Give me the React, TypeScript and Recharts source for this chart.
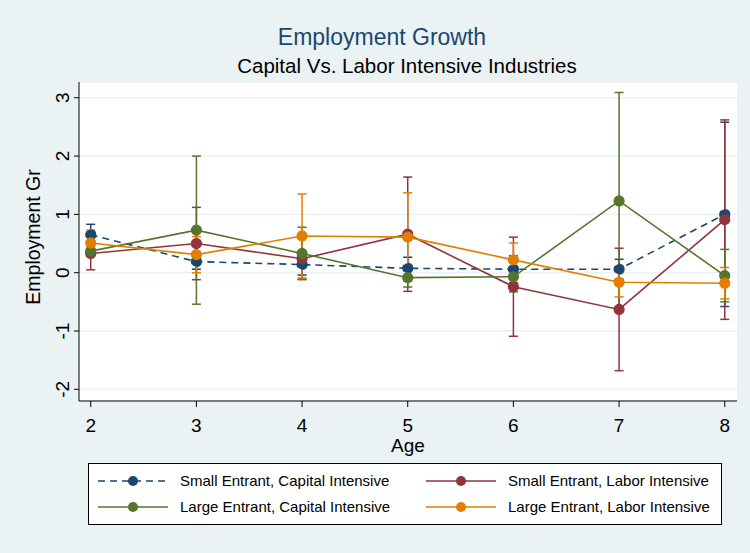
import React from 'react';
import { LineChart, Line, XAxis, YAxis, CartesianGrid, ErrorBar, Legend } from 'recharts';

// Employment growth by firm age, with 95% bands, for four entrant groups
const ages = [2, 3, 4, 5, 6, 7, 8];

const smallCapital = [0.65, 0.19, 0.14, 0.075, 0.06, 0.06, 1.0];
const smallCapitalErr = [0.18, 0.13, 0.18, 0.19, 0.23, 0.17, 1.58];

const smallLabor = [0.33, 0.5, 0.24, 0.66, -0.24, -0.63, 0.91];
const smallLaborErr = [0.28, 0.62, 0.35, 0.98, 0.85, 1.05, 1.71];

const largeCapital = [0.37, 0.73, 0.33, -0.085, -0.07, 1.23, -0.05];
const largeCapitalErr = [0.08, 1.27, 0.45, 0.16, 0.26, 1.86, 0.45];

const largeLabor = [0.51, 0.31, 0.63, 0.61, 0.22, -0.165, -0.18];
const largeLaborErr = [0.22, 0.31, 0.72, 0.76, 0.29, 0.25, 0.27];

const yTicks = [-2, -1, 0, 1, 2, 3];

const NAVY = '#1a476f';
const MAROON = '#90353b';
const GREEN = '#55752f';
const ORANGE = '#e37e00';
const BG = '#eaf2f3';
const FONT = '"Liberation Sans", Arial, Helvetica, sans-serif';

const data = ages.map((age, i) => ({
  age,
  sc: smallCapital[i],
  scErr: smallCapitalErr[i],
  sl: smallLabor[i],
  slErr: smallLaborErr[i],
  lc: largeCapital[i],
  lcErr: largeCapitalErr[i],
  ll: largeLabor[i],
  llErr: largeLaborErr[i],
}));

const legendItems = [
  { label: 'Small Entrant, Capital Intensive', color: NAVY, dash: '7 5' },
  { label: 'Small Entrant, Labor Intensive', color: MAROON },
  { label: 'Large Entrant, Capital Intensive', color: GREEN },
  { label: 'Large Entrant, Labor Intensive', color: ORANGE },
];

// vertical tick labels on the y axis, reading bottom to top
const YTick = (props: any) => {
  const { y, payload } = props;
  const cx = 62;
  return (
    <text
      x={cx}
      y={y}
      transform={`rotate(-90, ${cx}, ${y})`}
      textAnchor="middle"
      dy="0.36em"
      fontSize={19}
      fontFamily={FONT}
      fill="#000"
    >
      {payload.value}
    </text>
  );
};

const LegendBox = () => {
  const cols = [10, 338];
  const rows = [18, 44];
  return (
    <svg width={634} height={62} style={{ display: 'block' }}>
      <rect x={0.5} y={0.5} width={633} height={61} fill="#fff" stroke="#000" strokeWidth={1} />
      {legendItems.map((item, i) => {
        const x0 = cols[i % 2];
        const y0 = rows[Math.floor(i / 2)];
        return (
          <g key={item.label}>
            <line
              x1={x0}
              y1={y0}
              x2={x0 + 70}
              y2={y0}
              stroke={item.color}
              strokeWidth={1.6}
              strokeDasharray={item.dash}
            />
            <circle cx={x0 + 35} cy={y0} r={5} fill={item.color} />
            <text x={x0 + 82} y={y0} dy="0.36em" fontSize={15} fontFamily={FONT} fill="#000">
              {item.label}
            </text>
          </g>
        );
      })}
    </svg>
  );
};

export default function App() {
  const dot = (color: string) => ({ r: 5, fill: color, stroke: color, strokeWidth: 1.2 });
  return (
    <div style={{ position: 'absolute', left: 0, top: 0, width: 750, height: 553, background: BG, fontFamily: FONT }}>
      <LineChart width={750} height={553} data={data} margin={{ top: 82, right: 13, left: 19, bottom: 112 }}>
        <CartesianGrid vertical={false} fill="#fff" stroke={BG} strokeWidth={1.5} />
        <XAxis
          type="number"
          dataKey="age"
          domain={[1.889, 8.116]}
          ticks={ages}
          allowDataOverflow
          height={40}
          tickSize={6}
          tickMargin={12}
          stroke="#000"
          tick={{ fontSize: 19, fill: '#000', fontFamily: FONT }}
        />
        <YAxis
          type="number"
          domain={[-2.2, 3.27]}
          ticks={yTicks}
          allowDataOverflow
          width={60}
          tickSize={5}
          stroke="#000"
          tick={<YTick />}
        />
        <Line
          dataKey="sc"
          stroke={NAVY}
          strokeWidth={1.6}
          strokeDasharray="7 5"
          dot={dot(NAVY)}
          isAnimationActive={false}
        >
          <ErrorBar dataKey="scErr" direction="y" width={4.5} stroke={NAVY} strokeWidth={1.5} />
        </Line>
        <Line dataKey="sl" stroke={MAROON} strokeWidth={1.6} dot={dot(MAROON)} isAnimationActive={false}>
          <ErrorBar dataKey="slErr" direction="y" width={4.5} stroke={MAROON} strokeWidth={1.5} />
        </Line>
        <Line dataKey="lc" stroke={GREEN} strokeWidth={1.6} dot={dot(GREEN)} isAnimationActive={false}>
          <ErrorBar dataKey="lcErr" direction="y" width={4.5} stroke={GREEN} strokeWidth={1.5} />
        </Line>
        <Line dataKey="ll" stroke={ORANGE} strokeWidth={1.6} dot={dot(ORANGE)} isAnimationActive={false}>
          <ErrorBar dataKey="llErr" direction="y" width={4.5} stroke={ORANGE} strokeWidth={1.5} />
        </Line>
        <Legend
          layout="horizontal"
          verticalAlign="middle"
          align="center"
          content={<LegendBox />}
          wrapperStyle={{ left: 88, top: 463, width: 634, height: 62 }}
        />
      </LineChart>
      <svg
        width={750}
        height={553}
        style={{ position: 'absolute', left: 0, top: 0, pointerEvents: 'none' }}
        fontFamily={FONT}
      >
        <text x={382} y={45} textAnchor="middle" fontSize={23} fill={NAVY}>
          Employment Growth
        </text>
        <text x={407} y={72.5} textAnchor="middle" fontSize={20.5} fill="#000">
          Capital Vs. Labor Intensive Industries
        </text>
        <text x={39.5} y={237} transform="rotate(-90, 39.5, 237)" textAnchor="middle" fontSize={19.5} fill="#000">
          Employment Gr
        </text>
        <text x={408} y={452} textAnchor="middle" fontSize={19} fill="#000">
          Age
        </text>
      </svg>
    </div>
  );
}
